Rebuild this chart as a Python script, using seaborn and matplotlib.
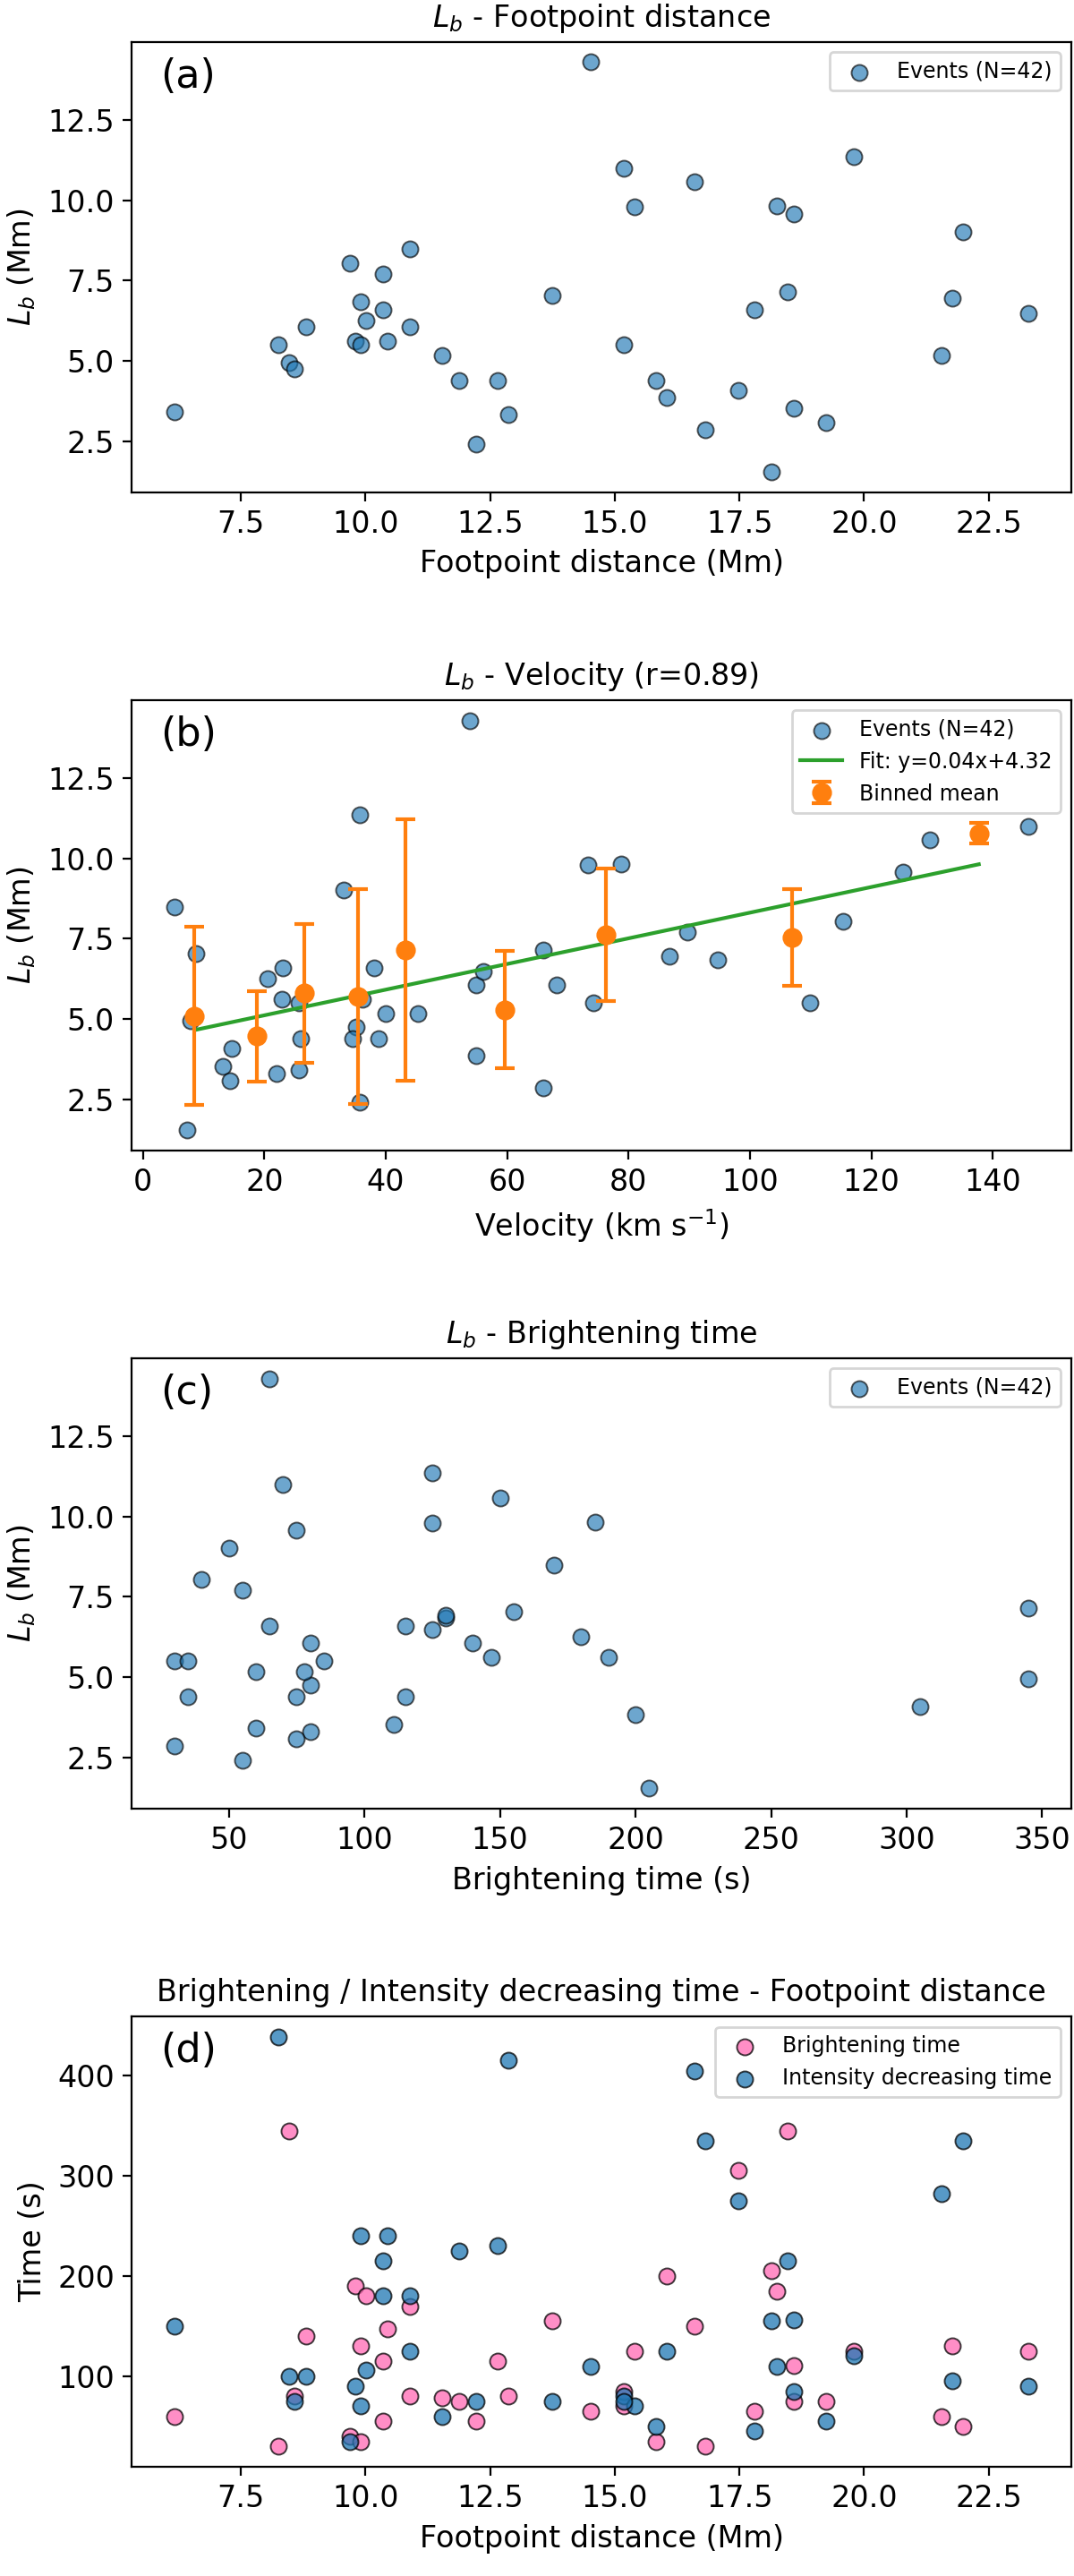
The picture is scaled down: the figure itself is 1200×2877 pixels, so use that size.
import matplotlib
matplotlib.use("Agg")
import matplotlib.pyplot as plt
import seaborn as sns
import numpy as np

# per-event values
footpoint_distance = [6.17, 8.26, 8.47, 8.58, 8.80, 9.68, 9.79, 9.91, 9.90, 10.01,
                      10.35, 10.35, 10.44, 10.89, 10.89, 11.54, 11.88, 12.65, 12.21, 12.87,
                      13.75, 14.52, 15.18, 15.40, 16.60, 15.18, 15.83, 16.05, 16.82, 17.48,
                      17.80, 19.79, 18.25, 18.59, 18.47, 18.59, 19.24, 18.14, 21.98, 21.77,
                      23.30, 21.55]
lb = [3.43, 5.51, 4.95, 4.75, 6.07, 8.03, 5.62, 5.51, 6.83, 6.27,
      7.70, 6.60, 5.62, 8.48, 6.07, 5.17, 4.40, 4.40, 2.42, 3.32,
      7.05, 14.29, 11.00, 9.79, 10.57, 5.51, 4.40, 3.85, 2.87, 4.09,
      6.60, 11.34, 9.81, 9.58, 7.16, 3.53, 3.09, 1.55, 9.02, 6.94,
      6.49, 5.17]
velocity = [25.7, 25.7, 7.8, 35.1, 54.9, 115.4, 22.9, 74.2, 94.7, 20.5,
            89.7, 23.1, 36.1, 5.2, 68.2, 40.0, 26.0, 34.5, 35.7, 22.0,
            8.7, 53.9, 145.9, 73.3, 129.7, 109.9, 38.8, 54.9, 65.9, 14.7,
            38.0, 35.7, 78.8, 125.2, 65.9, 13.1, 14.3, 7.3, 33.0, 86.7,
            56.0, 45.3]
brightening_time = [60, 30, 345, 80, 140, 40, 190, 35, 130, 180,
                    55, 115, 147, 170, 80, 78, 75, 115, 55, 80,
                    155, 65, 70, 125, 150, 85, 35, 200, 30, 305,
                    65, 125, 185, 75, 345, 111, 75, 205, 50, 130,
                    125, 60]
decreasing_time = [150, 439, 100, 75, 100, 35, 90, 70, 240, 106,
                   215, 180, 240, 180, 125, 60, 225, 230, 75, 415,
                   75, 110, 80, 70, 405, 75, 50, 125, 335, 275,
                   45, 120, 110, 156, 215, 85, 55, 155, 335, 95,
                   90, 282]

# binned means for panel (b)
bin_velocity = [8.5, 18.8, 26.6, 35.4, 43.2, 59.6, 76.2, 107.0, 137.7]
bin_mean = [5.10, 4.47, 5.80, 5.70, 7.14, 5.29, 7.62, 7.53, 10.78]
bin_std = [2.76, 1.41, 2.16, 3.35, 4.07, 1.83, 2.05, 1.50, 0.31]
fit_slope = 0.0399
fit_intercept = 4.32

plt.rcParams['font.size'] = 12

fig, axes = plt.subplots(4, 1, figsize=(6, 14.385), dpi=200)
fig.subplots_adjust(left=0.1228, right=0.9975, top=0.9838, bottom=0.0424, hspace=0.4604)

pt_kw = dict(s=42, color='tab:blue', alpha=0.65, edgecolor='k', linewidth=0.7)

# (a)
ax = axes[0]
sns.scatterplot(x=footpoint_distance, y=lb, ax=ax, label='Events (N=42)', **pt_kw)
ax.set_title('$L_b$ - Footpoint distance', fontsize=12)
ax.set_xlabel('Footpoint distance (Mm)')
ax.set_ylabel('$L_b$ (Mm)')

# (b)
ax = axes[1]
sns.scatterplot(x=velocity, y=lb, ax=ax, label='Events (N=42)', **pt_kw)
xfit = np.array([bin_velocity[0], bin_velocity[-1]])
ax.plot(xfit, fit_slope * xfit + fit_intercept, color='tab:green', lw=1.5,
        label='Fit: y=0.04x+4.32')
ax.errorbar(bin_velocity, bin_mean, yerr=bin_std, fmt='o', color='tab:orange',
            markersize=7, capsize=4, elinewidth=1.5, capthick=1.5, label='Binned mean')
ax.set_title('$L_b$ - Velocity (r=0.89)', fontsize=12)
ax.set_xlabel('Velocity (km s$^{-1}$)')
ax.set_ylabel('$L_b$ (Mm)')

# (c)
ax = axes[2]
sns.scatterplot(x=brightening_time, y=lb, ax=ax, label='Events (N=42)', **pt_kw)
ax.set_title('$L_b$ - Brightening time', fontsize=12)
ax.set_xlabel('Brightening time (s)')
ax.set_ylabel('$L_b$ (Mm)')

# (d)
ax = axes[3]
sns.scatterplot(x=footpoint_distance, y=brightening_time, ax=ax, s=42, color='hotpink',
                alpha=0.75, edgecolor='k', linewidth=0.7, label='Brightening time')
sns.scatterplot(x=footpoint_distance, y=decreasing_time, ax=ax, s=42, color='tab:blue',
                alpha=0.75, edgecolor='k', linewidth=0.7, label='Intensity decreasing time')
ax.set_title('Brightening / Intensity decreasing time - Footpoint distance', fontsize=12)
ax.set_xlabel('Footpoint distance (Mm)')
ax.set_ylabel('Time (s)')

for ax, tag in zip(axes, ['(a)', '(b)', '(c)', '(d)']):
    ax.text(0.03, 0.965, tag, transform=ax.transAxes, fontsize=16, va='top')
    ax.legend(loc='upper right', fontsize=8.5)

fig.savefig('out.png', dpi=200)
